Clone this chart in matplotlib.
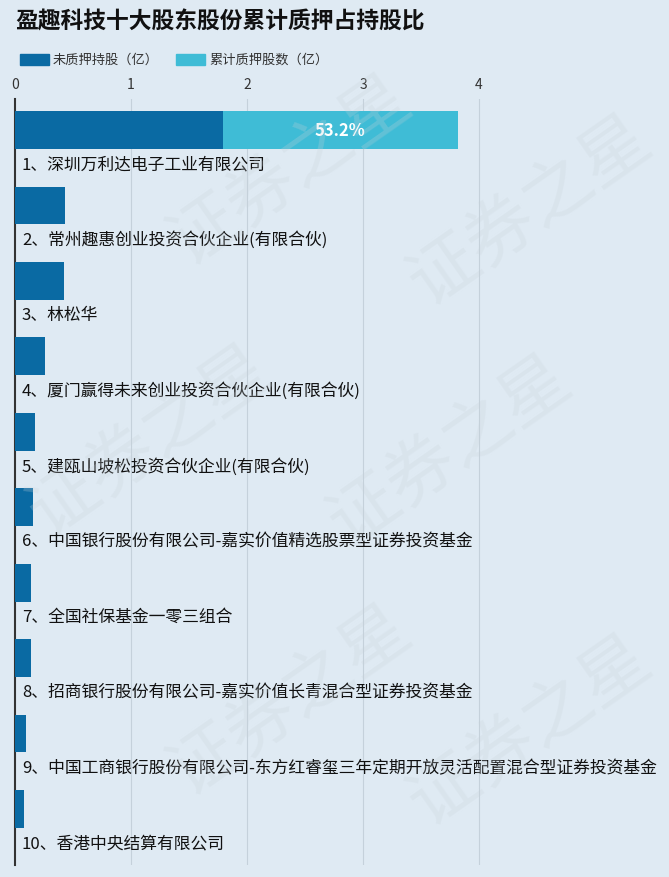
import matplotlib
matplotlib.use("Agg")
import matplotlib.pyplot as plt
import numpy as np

plt.rcParams['font.family'] = ['Noto Sans CJK SC', 'DejaVu Sans']

# data (亿股)
holders = [
    "1、深圳万利达电子工业有限公司",
    "2、常州趣惠创业投资合伙企业(有限合伙)",
    "3、林松华",
    "4、厦门赢得未来创业投资合伙企业(有限合伙)",
    "5、建瓯山坡松投资合伙企业(有限合伙)",
    "6、中国银行股份有限公司-嘉实价值精选股票型证券投资基金",
    "7、全国社保基金一零三组合",
    "8、招商银行股份有限公司-嘉实价值长青混合型证券投资基金",
    "9、中国工商银行股份有限公司-东方红睿玺三年定期开放灵活配置混合型证券投资基金",
    "10、香港中央结算有限公司",
]
unpledged = [1.79, 0.43, 0.42, 0.26, 0.17, 0.155, 0.14, 0.14, 0.095, 0.078]
pledged = [2.03, 0, 0, 0, 0, 0, 0, 0, 0, 0]
pct_labels = ["53.2%", "", "", "", "", "", "", "", "", ""]
xticks = [0, 1, 2, 3, 4]

BG = "#dfeaf3"
DARK = "#0a6aa3"
LIGHT = "#3fbcd6"

W, H = 669, 878
fig = plt.figure(figsize=(W / 100, H / 100), dpi=100)
fig.patch.set_facecolor(BG)

# watermark
for (wx, wy) in [(290, 170), (530, 210), (150, 440), (450, 450), (290, 700), (530, 730)]:
    fig.text(wx / W, 1 - wy / H, "证券之星", fontsize=50, color="#c9d3da",
             alpha=0.25, rotation=35, ha="center", va="center", zorder=0)

fig.text(15 / W, 1 - 22 / H, "盈趣科技十大股东股份累计质押占持股比",
         fontsize=16.4, fontweight="bold", color="#111111", va="center")

# legend
for lx, col, txt in [(20, DARK, "未质押持股（亿）"), (176, LIGHT, "累计质押股数（亿）")]:
    fig.patches.append(plt.Rectangle((lx / W, 1 - 66 / H), 29 / W, 11 / H,
                                     transform=fig.transFigure, color=col))
    fig.text((lx + 33) / W, 1 - 60 / H, txt, fontsize=9.5, color="#333333", va="center")

left, top, bottom = 15, 100, 866
ax = fig.add_axes([left / W, 1 - bottom / H, (W - left) / W, (bottom - top) / H])
ax.set_facecolor("none")
px_per_unit = 116
ax.set_xlim(0, (W - left) / px_per_unit)
pitch = 75.4
y = np.arange(len(holders))
ax.set_ylim(9 + (bottom - 810) / pitch, -(131 - top) / pitch)

ax.barh(y, unpledged, height=0.5, color=DARK, zorder=3)
ax.barh(y, pledged, left=unpledged, height=0.5, color=LIGHT, zorder=3)

for i, name in enumerate(holders):
    ax.text(0.06, i + 0.45, name, fontsize=12.1, color="#111111", va="center", zorder=4)
    if pct_labels[i]:
        ax.text(unpledged[i] + pledged[i] / 2, i, pct_labels[i], fontsize=12,
                fontweight="bold", color="white", ha="center", va="center", zorder=4)

for t in xticks[1:]:
    ax.axvline(t, color="#c5d1db", linewidth=0.8, zorder=1)

ax.xaxis.tick_top()
ax.set_xticks(xticks)
ax.tick_params(axis="x", length=0, pad=6, labelsize=10, labelcolor="#333333")
ax.set_yticks([])
for s in ["top", "right", "bottom"]:
    ax.spines[s].set_visible(False)
ax.spines["left"].set_color("#333333")
ax.spines["left"].set_linewidth(1.5)

fig.savefig("out.png", dpi=100, facecolor=BG)
